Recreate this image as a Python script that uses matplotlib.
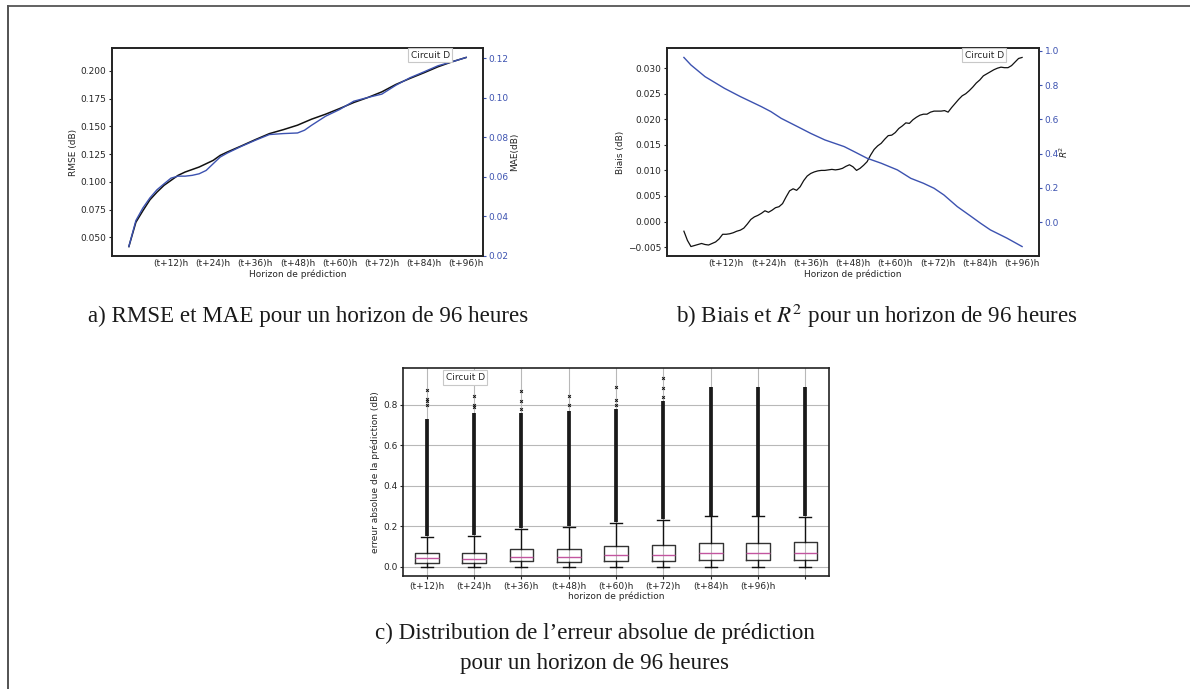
import numpy as np
import matplotlib
matplotlib.use("Agg")
import matplotlib.pyplot as plt
from matplotlib.lines import Line2D

# ---------------- data ----------------
tick_steps = [12, 24, 36, 48, 60, 72, 84, 96]
tick_labels = ["(t+12)h", "(t+24)h", "(t+36)h", "(t+48)h", "(t+60)h", "(t+72)h", "(t+84)h", "(t+96)h"]

rmse_h = [0, 2, 4, 6, 8, 10, 12, 14, 16, 20, 24, 26, 28, 32, 36, 40, 44, 48, 52, 56, 60, 64, 68, 72, 76, 80, 84, 88, 92, 96]
rmse = [0.0417, 0.0636, 0.0740, 0.0838, 0.0907, 0.0968, 0.1013, 0.1058, 0.1088, 0.1133, 0.1193, 0.1238,
        0.1268, 0.1323, 0.1380, 0.1434, 0.1470, 0.1510, 0.1564, 0.1609, 0.1660, 0.1714, 0.1759, 0.1810,
        0.1877, 0.1931, 0.1982, 0.2036, 0.2081, 0.2120]

mae_h = [0, 2, 4, 6, 8, 10, 12, 14, 16, 18, 20, 22, 24, 26, 28, 32, 36, 40, 44, 48, 50, 52, 56, 60, 64, 68, 72, 76, 80, 84, 88, 92, 96]
mae = [0.0246, 0.0378, 0.0442, 0.0493, 0.0534, 0.0564, 0.0593, 0.0603, 0.0603, 0.0607, 0.0615, 0.0632,
       0.0666, 0.0700, 0.0720, 0.0754, 0.0785, 0.0814, 0.0819, 0.0822, 0.0836, 0.0861, 0.0907, 0.0941,
       0.0983, 0.1002, 0.1019, 0.1064, 0.1102, 0.1132, 0.1163, 0.1183, 0.1205]

bias_h = list(range(0, 97))
bias = [-0.0019, -0.0037, -0.0049, -0.0047, -0.0045, -0.0043, -0.0045, -0.0046, -0.0043, -0.0040,
        -0.0034, -0.0025, -0.0025, -0.0024, -0.0022, -0.0019, -0.0017, -0.0013, -0.0005, 0.0004,
        0.0009, 0.0012, 0.0016, 0.0021, 0.0018, 0.0022, 0.0027, 0.0029, 0.0035, 0.0048,
        0.0060, 0.0064, 0.0061, 0.0068, 0.0080, 0.0089, 0.0094, 0.0097, 0.0099, 0.0100,
        0.0100, 0.0101, 0.0102, 0.0101, 0.0102, 0.0104, 0.0108, 0.0111, 0.0107, 0.0100,
        0.0104, 0.0110, 0.0117, 0.0130, 0.0141, 0.0148, 0.0153, 0.0161, 0.0168, 0.0169,
        0.0174, 0.0182, 0.0187, 0.0193, 0.0192, 0.0199, 0.0204, 0.0208, 0.0210, 0.0210,
        0.0214, 0.0216, 0.0216, 0.0216, 0.0217, 0.0214, 0.0223, 0.0231, 0.0239, 0.0246,
        0.0250, 0.0256, 0.0263, 0.0271, 0.0277, 0.0285, 0.0289, 0.0293, 0.0297, 0.0300,
        0.0302, 0.0301, 0.0301, 0.0305, 0.0312, 0.0319, 0.0321]

r2_h = [0, 2, 6, 11.5, 16, 22, 24.7, 27.6, 32.3, 36, 40, 45.5, 48.3, 52, 56, 60.6, 64.4, 68, 71, 73.8, 77.6, 81.3, 84.2, 87, 91.7, 96]
r2 = [0.961, 0.917, 0.849, 0.781, 0.733, 0.674, 0.645, 0.606, 0.557, 0.518, 0.480, 0.441, 0.412,
      0.373, 0.344, 0.305, 0.256, 0.227, 0.198, 0.159, 0.091, 0.037, -0.006, -0.045, -0.093, -0.142]

# boxplot stats per horizon (9 boxes)
box_labels = ["(t+12)h", "(t+24)h", "(t+36)h", "(t+48)h", "(t+60)h", "(t+72)h", "(t+84)h", "(t+96)h", ""]
box_q1 = [0.0165, 0.0165, 0.025, 0.021, 0.028, 0.028, 0.031, 0.031, 0.031]
box_med = [0.040, 0.036, 0.048, 0.046, 0.056, 0.058, 0.066, 0.066, 0.066]
box_q3 = [0.069, 0.069, 0.088, 0.089, 0.102, 0.107, 0.117, 0.117, 0.120]
box_whi = [0.144, 0.149, 0.187, 0.195, 0.215, 0.228, 0.248, 0.248, 0.245]
box_wlo = [0.0, 0.0, 0.0, 0.0, 0.0, 0.0, 0.0, 0.0, 0.0]
# dense outlier clusters (low, high) and isolated outliers
dense_lo = [0.150, 0.155, 0.19, 0.20, 0.22, 0.235, 0.25, 0.25, 0.25]
dense_hi = [0.730, 0.760, 0.76, 0.77, 0.78, 0.820, 0.89, 0.89, 0.89]
sparse_fliers = [[0.80, 0.82, 0.83, 0.875], [0.79, 0.80, 0.845], [0.78, 0.82, 0.87], [0.80, 0.845],
                 [0.80, 0.825, 0.89], [0.84, 0.885, 0.935], [], [], []]

# ---------------- style ----------------
BLUE = "#3c52b0"
PINK = "#c2559f"
TXT = "#262626"
plt.rcParams["font.family"] = ["DejaVu Sans"]
plt.rcParams["font.size"] = 6.5
plt.rcParams["xtick.labelsize"] = 6.5
plt.rcParams["ytick.labelsize"] = 6.5
plt.rcParams["xtick.color"] = TXT
plt.rcParams["ytick.color"] = TXT
plt.rcParams["axes.labelcolor"] = TXT
plt.rcParams["xtick.major.size"] = 2.5
plt.rcParams["ytick.major.size"] = 2.5

W, H = 1190, 689
fig = plt.figure(figsize=(W / 100, H / 100), dpi=100)


def rect(l, t, r, b):
    return [l / W, 1 - b / H, (r - l) / W, (b - t) / H]


def circuit_box(ax, x, y):
    ax.text(x, y, "Circuit D", transform=ax.transAxes, ha="left", va="center", fontsize=6.5, color=TXT,
            bbox=dict(boxstyle="square,pad=0.3", fc="white", ec="#c8c8c8", lw=0.8), zorder=5)


# ---- panel a ----
axa = fig.add_axes(rect(112, 48, 483, 256))
axa.plot(rmse_h, rmse, color="#111111", lw=1.1)
axa.set_ylabel("RMSE (dB)", labelpad=2)
axa.set_xlabel("Horizon de prédiction", labelpad=1)
axa.set_xticks(tick_steps)
axa.set_xticklabels(tick_labels)
axa.tick_params(axis="x", length=0, pad=2)
axa.tick_params(axis="y", pad=1.5)
axa.yaxis.set_major_formatter(matplotlib.ticker.FormatStrFormatter("%.3f"))
axa2 = axa.twinx()
axa2.plot(mae_h, mae, color=BLUE, lw=1.0)
axa2.set_ylabel("MAE(dB)", labelpad=1)
axa2.tick_params(axis="y", colors=BLUE, pad=1.5)
axa2.yaxis.label.set_color(TXT)
axa2.set_yticks([0.02, 0.04, 0.06, 0.08, 0.10, 0.12])
axa2.yaxis.set_major_formatter(matplotlib.ticker.FormatStrFormatter("%.2f"))
for sp in list(axa.spines.values()) + list(axa2.spines.values()):
    sp.set_linewidth(1.2)
    sp.set_color("#222222")
circuit_box(axa2, 0.805, 0.965)

# ---- panel b ----
axb = fig.add_axes(rect(667, 48, 1039, 256))
axb.plot(bias_h, bias, color="#111111", lw=0.9)
axb.set_ylabel("Biais (dB)", labelpad=2)
axb.set_xlabel("Horizon de prédiction", labelpad=1)
axb.set_xticks(tick_steps)
axb.set_xticklabels(tick_labels)
axb.tick_params(axis="x", length=0, pad=2)
axb.tick_params(axis="y", pad=1.5)
axb.set_yticks([-0.005, 0.0, 0.005, 0.010, 0.015, 0.020, 0.025, 0.030])
axb.set_yticklabels(["\u22120.005", "0.000", "0.005", "0.010", "0.015", "0.020", "0.025", "0.030"])
axb2 = axb.twinx()
axb2.plot(r2_h, r2, color=BLUE, lw=1.0)
axb2.set_ylabel("$R^2$", labelpad=-1)
axb2.tick_params(axis="y", colors=BLUE, pad=1.5)
axb2.yaxis.label.set_color(TXT)
axb2.set_yticks([0.0, 0.2, 0.4, 0.6, 0.8, 1.0])
for sp in list(axb.spines.values()) + list(axb2.spines.values()):
    sp.set_linewidth(1.2)
    sp.set_color("#222222")
circuit_box(axb2, 0.80, 0.965)

# ---- panel c ----
axc = fig.add_axes(rect(403, 368, 829, 576))
positions = list(range(1, len(box_q1) + 1))
stats = []
for i in range(len(box_q1)):
    stats.append(dict(med=box_med[i], q1=box_q1[i], q3=box_q3[i], whislo=box_wlo[i], whishi=box_whi[i],
                      fliers=np.array(sparse_fliers[i]), label=box_labels[i]))
axc.vlines(positions, dense_lo, dense_hi, color="#1a1a1a", lw=2.7, zorder=3)
axc.bxp(stats, positions=positions, widths=0.5, showfliers=True,
        boxprops=dict(color="#333333", lw=1.0),
        whiskerprops=dict(color="#111111", lw=1.0),
        capprops=dict(color="#111111", lw=1.0),
        medianprops=dict(color=PINK, lw=1.0),
        flierprops=dict(marker="x", ms=2.0, mec="#111111", mew=0.7, ls="none"))
axc.set_ylim(-0.047, 0.983)
axc.set_xlim(0.5, 9.5)
axc.set_xticks(positions)
axc.set_xticklabels(box_labels)
axc.set_yticks([0.0, 0.2, 0.4, 0.6, 0.8])
axc.grid(True, color="#b8b8b8", lw=0.8)
axc.set_axisbelow(True)
axc.set_xlabel("horizon de prédiction", labelpad=1)
axc.set_ylabel("erreur absolue de la prédiction (dB)", labelpad=2)
axc.tick_params(axis="x", pad=1.5)
axc.tick_params(axis="y", pad=1.5)
for sp in axc.spines.values():
    sp.set_linewidth(1.2)
    sp.set_color("#222222")
circuit_box(axc, 0.10, 0.955)

# ---- captions ----
cap_kw = dict(family=["Liberation Serif", "DejaVu Serif"], fontsize=16.6, color="#1a1a1a", ha="center", va="center")
fig.text(308 / W, 1 - 316 / H, "a) RMSE et MAE pour un horizon de 96 heures", **cap_kw)
fig.text(877 / W, 1 - 316 / H, "b) Biais et $R^2$ pour un horizon de 96 heures", math_fontfamily="stix", **cap_kw)
fig.text(595 / W, 1 - 633 / H, "c) Distribution de l\u2019erreur absolue de prédiction", **cap_kw)
fig.text(595 / W, 1 - 664 / H, "pour un horizon de 96 heures", **cap_kw)

# ---- frame ----
fig.add_artist(Line2D([7.5 / W, 7.5 / W], [0, 1 - 6 / H], transform=fig.transFigure, color="#444444", lw=1.3))
fig.add_artist(Line2D([7.5 / W, 1], [1 - 6 / H, 1 - 6 / H], transform=fig.transFigure, color="#555555", lw=1.3))

fig.savefig("out.png", dpi=100)
